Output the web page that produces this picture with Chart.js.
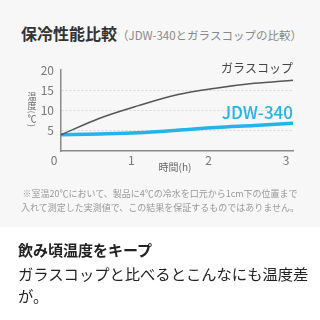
<!DOCTYPE html>
<html lang="ja">
<head>
    <meta charset="UTF-8">
    <title>保冷性能比較</title>
    <script src="https://cdn.jsdelivr.net/npm/chart.js"></script>
    <style>
        * {
            margin: 0;
            padding: 0;
            box-sizing: border-box;
            font-family: "Noto Sans CJK JP", "Noto Sans", sans-serif;
        }

        body {
            width: 320px;
            height: 320px;
            background: #ffffff;
            position: relative;
            overflow: hidden;
        }

        .top {
            position: absolute;
            left: 0;
            top: 0;
            width: 320px;
            height: 227px;
            background: #f7f7f7;
        }

        .chart-box {
            position: absolute;
            left: 0;
            top: 0;
            width: 320px;
            height: 227px;
        }

        .title {
            position: absolute;
            left: 21px;
            top: 21px;
            white-space: nowrap;
            color: #333;
        }

        .title b {
            font-size: 16px;
            font-weight: 700;
        }

        .title span {
            font-size: 11.5px;
            color: #888;
        }

        .note {
            position: absolute;
            left: 0;
            top: 187px;
            width: 320px;
            text-align: center;
            font-size: 9px;
            line-height: 14px;
            color: #999;
            white-space: nowrap;
        }

        .lead {
            position: absolute;
            left: 18px;
            top: 240px;
            width: 300px;
            color: #222;
        }

        .lead h2 {
            font-size: 15px;
            font-weight: 700;
            line-height: 20px;
        }

        .lead p {
            font-size: 15.3px;
            line-height: 22px;
            margin-top: 2px;
        }
    </style>
</head>
<body>
    <div class="top"></div>
    <div class="title"><b>保冷性能比較</b><span>（JDW-340とガラスコップの比較）</span></div>
    <div class="chart-box"><canvas id="coolChart"></canvas></div>
    <div class="note">※室温20℃において、製品に4℃の冷水を口元から1cm下の位置まで<br>入れて測定した実測値で、この結果を保証するものではありません。</div>
    <div class="lead">
        <h2>飲み頃温度をキープ</h2>
        <p>ガラスコップと比べるとこんなにも温度差が。</p>
    </div>

    <script>
        // hours elapsed
        const hours = [0, 0.5, 1, 1.5, 2, 2.5, 3];
        // temperature (℃)
        const glassTemp = [4.0, 8.1, 11.2, 13.9, 15.5, 16.7, 17.5];
        const jdwTemp = [4.0, 4.2, 4.5, 5.1, 5.8, 6.3, 6.85];
        const xTicks = [0, 1, 2, 3];
        const yTicks = [0, 5, 10, 15, 20];
        const seriesNames = ['ガラスコップ', 'JDW-340'];

        const FONT = '"Noto Sans CJK JP", "Noto Sans", sans-serif';

        // axis titles + series labels
        const labelPlugin = {
            id: 'labels',
            afterDraw(chart) {
                const ctx = chart.ctx;
                const area = chart.chartArea;
                const y = chart.scales.y;
                ctx.save();

                // series names at the right end of each line
                ctx.textAlign = 'right';
                ctx.textBaseline = 'middle';
                ctx.fillStyle = '#444';
                ctx.font = '12px ' + FONT;
                ctx.fillText(seriesNames[0], area.right, y.getPixelForValue(glassTemp[glassTemp.length - 1]) - 12);
                ctx.fillStyle = '#22b4ea';
                ctx.font = '500 17px ' + FONT;
                ctx.fillText(seriesNames[1], area.right, y.getPixelForValue(jdwTemp[jdwTemp.length - 1]) - 11);

                // x title
                ctx.fillStyle = '#666';
                ctx.textAlign = 'center';
                ctx.font = '10px ' + FONT;
                ctx.fillText('時間(h)', 175, 167);

                // y title, written vertically
                ctx.font = '9px ' + FONT;
                ctx.fillText('温', 32, 97);
                ctx.fillText('度', 32, 105.5);
                ctx.fillText('℃', 32, 118.5);
                ctx.font = '8px ' + FONT;
                [['(', 112], [')', 125.5]].forEach(([c, py]) => {
                    ctx.save();
                    ctx.translate(32, py);
                    ctx.rotate(Math.PI / 2);
                    ctx.fillText(c, 0, 0);
                    ctx.restore();
                });
                ctx.restore();
            }
        };

        new Chart(document.getElementById('coolChart'), {
            type: 'line',
            data: {
                datasets: [{
                    label: seriesNames[0],
                    data: hours.map((h, i) => ({ x: h, y: glassTemp[i] })),
                    borderColor: '#555555',
                    borderWidth: 1.5,
                    pointRadius: 0,
                    cubicInterpolationMode: 'monotone'
                }, {
                    label: seriesNames[1],
                    data: hours.map((h, i) => ({ x: h, y: jdwTemp[i] })),
                    borderColor: '#22b4ea',
                    borderWidth: 3.5,
                    pointRadius: 0,
                    cubicInterpolationMode: 'monotone'
                }]
            },
            options: {
                responsive: true,
                maintainAspectRatio: false,
                animation: false,
                layout: {
                    padding: { top: 70, right: 27, left: 0, bottom: 0 }
                },
                plugins: {
                    legend: { display: false },
                    tooltip: { enabled: false }
                },
                scales: {
                    x: {
                        type: 'linear',
                        min: 0,
                        max: 3,
                        afterBuildTicks: s => { s.ticks = xTicks.map(v => ({ value: v })); },
                        afterFit: s => { s.height = 76; },
                        grid: { display: true, drawOnChartArea: false, drawTicks: false },
                        border: { display: true, color: '#8a8a8a', width: 1.5 },
                        ticks: {
                            color: '#777',
                            font: { family: FONT, size: 12 },
                            padding: 2,
                            labelOffset: -7
                        }
                    },
                    y: {
                        min: 0,
                        max: 20,
                        afterBuildTicks: s => { s.ticks = yTicks.map(v => ({ value: v })); },
                        afterFit: s => { s.width = 61; },
                        grid: {
                            drawTicks: false,
                            lineWidth: 1,
                            color: c => (c.tick && c.tick.value > 0 && c.tick.value < 20) ? '#d6d6d6' : 'rgba(0,0,0,0)'
                        },
                        border: { display: true, color: '#8a8a8a', width: 1.5, dash: [2, 2] },
                        ticks: {
                            color: '#777',
                            font: { family: FONT, size: 12 },
                            padding: 7,
                            callback: v => v === 0 ? '' : v
                        }
                    }
                }
            },
            plugins: [labelPlugin]
        });
    </script>
</body>
</html>
